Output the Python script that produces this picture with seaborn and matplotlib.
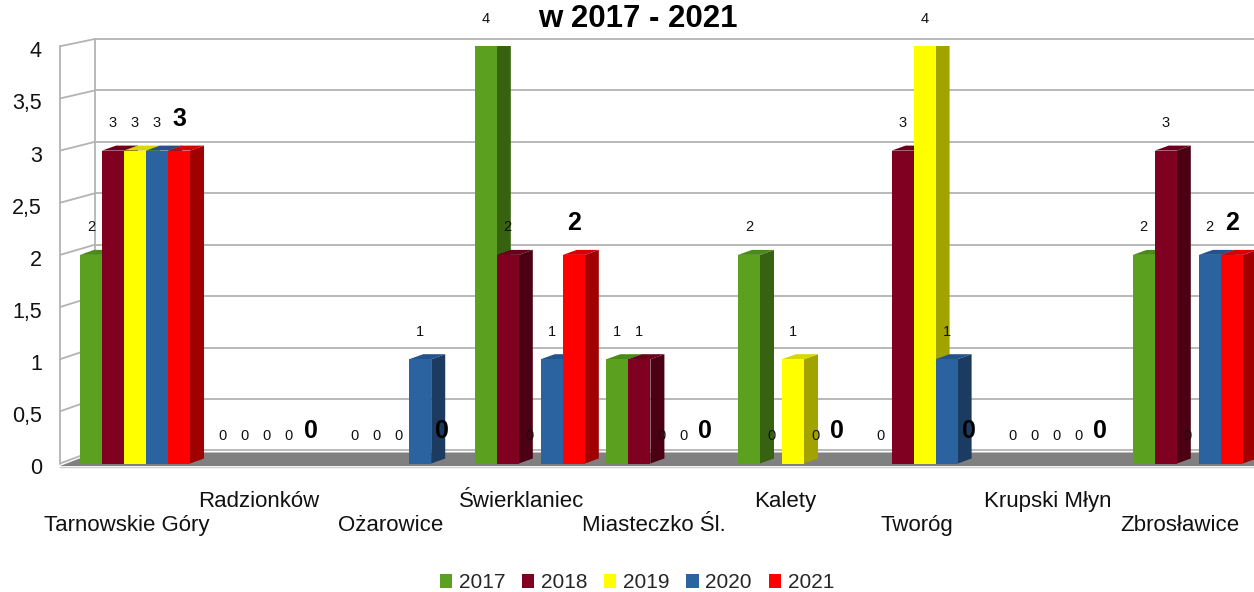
import numpy as np
import pandas as pd
import matplotlib
matplotlib.use("Agg")
import matplotlib.pyplot as plt
import matplotlib.transforms as mtrans
import seaborn as sns
from matplotlib.patches import Polygon, Patch
from matplotlib.lines import Line2D

# ---------------- data ----------------
gminy = ["Tarnowskie Góry", "Radzionków", "Ożarowice", "Świerklaniec",
         "Miasteczko Śl.", "Kalety", "Tworóg", "Krupski Młyn", "Zbrosławice"]
lata = ["2017", "2018", "2019", "2020", "2021"]
v2017 = [2, 0, 0, 4, 1, 2, 0, 0, 2]
v2018 = [3, 0, 0, 2, 1, 0, 3, 0, 3]
v2019 = [3, 0, 0, 0, 0, 1, 4, 0, 0]
v2020 = [3, 0, 1, 1, 0, 0, 1, 0, 2]
v2021 = [3, 0, 0, 2, 0, 0, 0, 0, 2]
title = "w 2017 - 2021"
yticks = [0, 0.5, 1, 1.5, 2, 2.5, 3, 3.5, 4]
ytick_labels = ["0", "0,5", "1", "1,5", "2", "2,5", "3", "3,5", "4"]

colors = ["#5ba01e", "#800022", "#ffff00", "#2b63a0", "#ff0000"]
side_colors = ["#37620f", "#4c0014", "#a3a300", "#1b3b60", "#a00000"]
top_colors = ["#4a8a17", "#6a001c", "#d8d800", "#24528a", "#d80000"]

series = [v2017, v2018, v2019, v2020, v2021]
df = pd.DataFrame({
    "gmina": gminy * len(lata),
    "rok": sum([[r] * len(gminy) for r in lata], []),
    "wartosc": sum(series, []),
})

# ---------------- figure ----------------
sns.set_style("white")
plt.rcParams["font.family"] = ["Liberation Sans", "DejaVu Sans"]

W, H = 1254, 592
fig = plt.figure(figsize=(W / 100, H / 100), dpi=100)
y0_px, y4_px = 463.5, 46.3
left_px = 60
ax = fig.add_axes([left_px / W, (H - y0_px) / H, (W - left_px) / W, (y0_px - y4_px) / H])

sns.barplot(data=df, x="gmina", y="wartosc", hue="rok", hue_order=lata,
            order=gminy, palette=colors, width=0.836, gap=0, saturation=1,
            errorbar=None, legend=False, ax=ax)

xlim = (-0.570, 8.503)
ax.set_xlim(*xlim)
ax.set_ylim(0, 4)
ax.set_axis_off()

xs = (W - left_px) / (xlim[1] - xlim[0])   # px per x unit
ys = (y0_px - y4_px) / 4.0                 # px per y unit
dx, dy = 14 / xs, 5 / ys

# back-wall mapping (perspective)
def yback(v):
    return 0.1256 + 0.9862 * v

xback = xlim[0] + 35 / xs
gridc = "#b3b3b3"
for v in yticks:
    ax.add_line(Line2D([xback, xlim[1] + 3 / xs], [yback(v), yback(v)], color=gridc, lw=1.3,
                       zorder=0.5, clip_on=False))
    ax.add_line(Line2D([xlim[0], xback], [v, yback(v)], color=gridc, lw=1.3, zorder=0.5,
                       clip_on=False))
ax.add_line(Line2D([xlim[0], xlim[0]], [0, 4], color=gridc, lw=1.3, zorder=0.5, clip_on=False))
ax.add_line(Line2D([xback, xback], [yback(0), yback(4)], color=gridc, lw=1.3, zorder=0.5,
                   clip_on=False))

# floor
floor = Polygon([(xlim[0], -2.5 / ys), (xback, 11 / ys), (xlim[1] + 4 / xs, 11 / ys),
                 (xlim[1], -2.5 / ys)], closed=True, facecolor="#808080",
                edgecolor="none", zorder=1, clip_on=False)
ax.add_patch(floor)
ax.add_line(Line2D([xlim[0], xlim[1]], [-3.5 / ys, -3.5 / ys], color="#d0d0d0", lw=1, zorder=1,
                   clip_on=False))

# 3D bars
bars = []
for j, cont in enumerate(ax.containers):
    for i, b in enumerate(cont):
        bars.append((b.get_x(), b, j, i))
bars.sort(key=lambda t: t[0])
for k, (x0, b, j, i) in enumerate(bars):
    h = b.get_height()
    w = b.get_width()
    b.set_zorder(3 + 0.002 * k + 0.001)
    b.set_edgecolor("none")
    if h <= 0:
        b.set_visible(False)
        continue
    x1 = x0 + w
    side = Polygon([(x1, 0), (x1, h), (x1 + dx, h + dy), (x1 + dx, dy)], closed=True,
                   facecolor=side_colors[j], edgecolor="none", zorder=3 + 0.002 * k)
    top = Polygon([(x0, h), (x0 + dx, h + dy), (x1 + dx, h + dy), (x1, h)], closed=True,
                  facecolor=top_colors[j], edgecolor="none", zorder=3 + 0.002 * k)
    ax.add_patch(side)
    ax.add_patch(top)

# data labels
for x0, b, j, i in bars:
    h = b.get_height()
    xc = x0 + b.get_width() / 2
    if j == len(lata) - 1:
        tr = mtrans.offset_copy(ax.transData, fig=fig, x=0, y=25, units="dots")
        ax.text(xc, h, f"{int(h)}", transform=tr, ha="center", va="baseline",
                fontsize=18, fontweight="bold", color="black", zorder=10)
    else:
        tr = mtrans.offset_copy(ax.transData, fig=fig, x=0, y=23.5, units="dots")
        ax.text(xc, h, f"{int(h)}", transform=tr, ha="center", va="baseline",
                fontsize=10.5, color="#111111", zorder=10)

# y tick labels
for v, lab in zip(yticks, ytick_labels):
    tr = mtrans.offset_copy(ax.get_yaxis_transform(), fig=fig, x=-18, y=-11, units="dots")
    ax.text(0, v, lab, transform=tr, ha="right", va="baseline", fontsize=15.5,
            color="#111111", clip_on=False)

# category labels (staggered)
for i, g in enumerate(gminy):
    off = -(507 - y0_px) if i % 2 == 1 else -(531 - y0_px)
    tr = mtrans.offset_copy(ax.transData, fig=fig, x=-8, y=off, units="dots")
    ax.text(i, 0, g, transform=tr, ha="center", va="baseline", fontsize=16,
            color="#111111", clip_on=False)

# title (kept fully inside the figure)
fig.text(638 / W, 1 - 27 / H, title, ha="center", va="baseline", fontsize=22.5,
         fontweight="bold", color="black")

# legend
handles = [Patch(facecolor=c, edgecolor="none", label=l) for c, l in zip(colors, lata)]
fig.legend(handles=handles, loc="center", bbox_to_anchor=(637 / W, 1 - 583 / H), ncol=5,
           frameon=False, fontsize=15, handlelength=0.58, handleheight=0.62,
           handletextpad=0.33, columnspacing=0.8, borderpad=0)

fig.savefig("out.png", dpi=100)
